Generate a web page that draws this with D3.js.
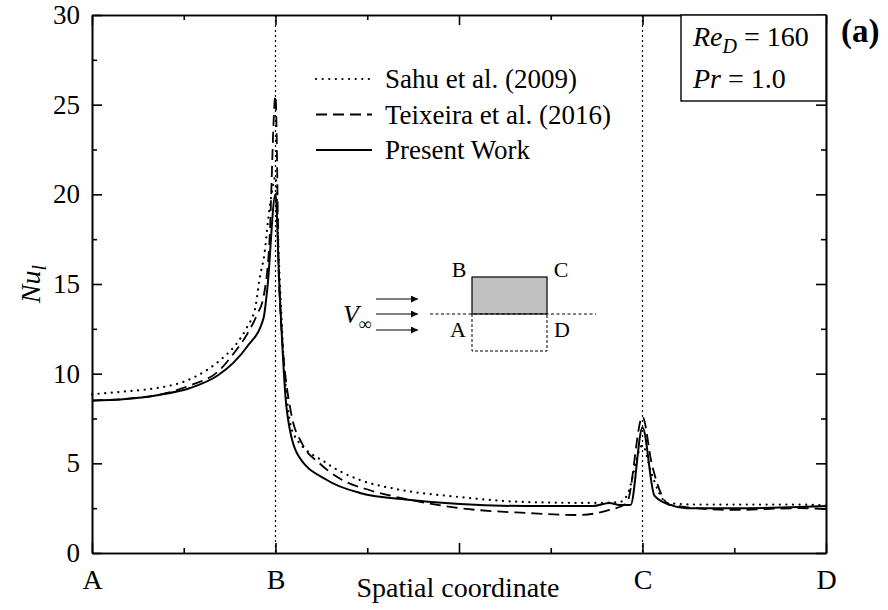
<!DOCTYPE html>
<html>
<head>
<meta charset="utf-8">
<script src="https://cdn.jsdelivr.net/npm/d3@7"></script>
<style>
  body { margin: 0; background: #fff; }
  svg { font-family: "Liberation Serif", "Times New Roman", serif; }
  .axis path, .axis line { stroke: #000; stroke-width: 1.6; }
  .axis text { font-size: 27px; fill: #000; font-family: "Liberation Serif", serif; }
  .axis.letters text { font-size: 28px; }
</style>
</head>
<body>
<svg id="chart" width="888" height="610"></svg>
<script>
// x positions: A = 0, B = 2, C = 6, D = 8 (perimeter of square cylinder)
var xLetters = [[0, 'A'], [2, 'B'], [6, 'C'], [8, 'D']];
var yTicks = [0, 5, 10, 15, 20, 25, 30];

var sahu = [
    [0, 8.85], [0.34, 9.0], [0.71, 9.2], [1.0, 9.55], [1.25, 10.2],
    [1.43, 10.9], [1.58, 11.7], [1.69, 12.6], [1.78, 13.7], [1.83, 15.4], [1.88, 16.7],
    [1.92, 18.6], [1.96, 20.1], [2.0, 21.0], [2.04, 16.0], [2.1, 10.0], [2.2, 6.6],
    [2.56, 5.0], [2.92, 4.07], [3.28, 3.6], [4.01, 3.12], [4.74, 2.84], [5.46, 2.79],
    [5.75, 2.84], [5.83, 3.2], [6.0, 6.0], [6.1, 4.4], [6.27, 2.79], [6.63, 2.7],
    [7.71, 2.7], [8.0, 2.65]
];

var teixeira = [
    [0, 8.5], [0.34, 8.58], [0.71, 8.8], [1.07, 9.35], [1.37, 10.1], [1.54, 11.1],
    [1.69, 12.2], [1.8, 13.3], [1.87, 14.3], [1.93, 17.0], [2.0, 25.5], [2.04, 14.8],
    [2.17, 7.8], [2.29, 6.1], [2.48, 5.0], [2.73, 4.07], [3.03, 3.5], [3.47, 2.96],
    [4.01, 2.5], [4.74, 2.23], [5.29, 2.12], [5.64, 2.4], [5.83, 2.79], [6.0, 7.6],
    [6.1, 5.0], [6.3, 2.68], [6.98, 2.4], [7.71, 2.5], [8.0, 2.45]
];

var present = [
    [0, 8.5], [0.34, 8.58], [0.71, 8.8], [1.07, 9.2], [1.37, 9.9], [1.54, 10.6],
    [1.69, 11.5], [1.87, 13.1], [1.91, 14.7], [2.0, 20.0], [2.04, 15.2], [2.12, 8.1],
    [2.24, 5.5], [2.56, 4.07], [2.92, 3.35], [3.47, 2.96], [4.01, 2.73], [4.74, 2.62],
    [5.46, 2.62], [5.64, 2.79], [5.75, 2.68], [5.87, 2.68], [6.0, 7.0], [6.13, 3.2],
    [6.3, 2.68], [6.48, 2.5], [6.98, 2.5], [7.71, 2.56], [8.0, 2.62]
];

var seriesNames = ['Sahu et al. (2009)', 'Teixeira et al. (2016)', 'Present Work'];

var margin = {left: 92, top: 15, right: 62, bottom: 57},
    W = 888, H = 610,
    w = W - margin.left - margin.right,
    h = H - margin.top - margin.bottom;

var svg = d3.select('#chart');
var g = svg.append('g').attr('transform', 'translate(' + margin.left + ',' + margin.top + ')');

var x = d3.scaleLinear().domain([0, 8]).range([0, w]);
var y = d3.scaleLinear().domain([0, 30]).range([h, 0]);

var styles = [
    {dash: '0.1,6.5', width: 2.2, cap: 'round'},
    {dash: '11,6', width: 1.8, cap: 'butt'},
    {dash: null, width: 2, cap: 'butt'}
];

// vertical dotted lines at B and C
g.selectAll('.corner').data([2, 6]).enter().append('line')
    .attr('x1', function (d) { return x(d); })
    .attr('x2', function (d) { return x(d); })
    .attr('y1', 0).attr('y2', h)
    .attr('stroke', '#000').attr('stroke-width', 1.2)
    .attr('stroke-dasharray', '2,3');

// axes, ticks pointing inward
var majorX = [0, 2, 4, 6, 8], minorX = [1, 3, 5, 7];
var majorY = yTicks, minorY = [2.5, 7.5, 12.5, 17.5, 22.5, 27.5];
var letterOf = {};
xLetters.forEach(function (d) { letterOf[d[0]] = d[1]; });

g.append('g').attr('class', 'axis letters').attr('transform', 'translate(0,' + h + ')')
    .call(d3.axisBottom(x).tickValues(majorX).tickSizeInner(-10).tickSizeOuter(0).tickPadding(16)
        .tickFormat(function (d) { return letterOf[d] || ''; }));
g.append('g').attr('class', 'axis').attr('transform', 'translate(0,' + h + ')')
    .call(d3.axisBottom(x).tickValues(minorX).tickSizeInner(-5).tickSizeOuter(0).tickFormat(''));
g.append('g').attr('class', 'axis')
    .call(d3.axisTop(x).tickValues(majorX).tickSizeInner(-10).tickSizeOuter(0).tickFormat(''));
g.append('g').attr('class', 'axis')
    .call(d3.axisTop(x).tickValues(minorX).tickSizeInner(-5).tickSizeOuter(0).tickFormat(''));

g.append('g').attr('class', 'axis')
    .call(d3.axisLeft(y).tickValues(majorY).tickSizeInner(-10).tickSizeOuter(0).tickPadding(12));
g.append('g').attr('class', 'axis')
    .call(d3.axisLeft(y).tickValues(minorY).tickSizeInner(-5).tickSizeOuter(0).tickFormat(''));
g.append('g').attr('class', 'axis').attr('transform', 'translate(' + w + ',0)')
    .call(d3.axisRight(y).tickValues(majorY).tickSizeInner(-10).tickSizeOuter(0).tickFormat(''));
g.append('g').attr('class', 'axis').attr('transform', 'translate(' + w + ',0)')
    .call(d3.axisRight(y).tickValues(minorY).tickSizeInner(-5).tickSizeOuter(0).tickFormat(''));

// curves
var line = d3.line()
    .x(function (d) { return x(d[0]); })
    .y(function (d) { return y(d[1]); })
    .curve(d3.curveMonotoneX);

[sahu, teixeira, present].forEach(function (data, i) {
    g.append('path').datum(data)
        .attr('d', line)
        .attr('fill', 'none')
        .attr('stroke', '#000')
        .attr('stroke-width', styles[i].width)
        .attr('stroke-linecap', styles[i].cap)
        .attr('stroke-linejoin', 'round')
        .attr('stroke-dasharray', styles[i].dash);
});

// legend
var legend = svg.append('g').attr('transform', 'translate(316,79)');
seriesNames.forEach(function (name, i) {
    legend.append('line')
        .attr('x1', 0).attr('x2', 56)
        .attr('y1', i * 35.5).attr('y2', i * 35.5)
        .attr('stroke', '#000')
        .attr('stroke-width', styles[i].width)
        .attr('stroke-linecap', styles[i].cap)
        .attr('stroke-dasharray', styles[i].dash);
    legend.append('text')
        .attr('x', 69).attr('y', i * 35.5 + 9)
        .attr('font-size', 27)
        .text(name);
});

// parameter box in the top right corner
svg.append('rect')
    .attr('x', 681).attr('y', margin.top)
    .attr('width', margin.left + w - 681).attr('height', 86)
    .attr('fill', '#fff').attr('stroke', '#000').attr('stroke-width', 1.4);
var t1 = svg.append('text').attr('x', 693).attr('y', 46).attr('font-size', 28);
t1.append('tspan').attr('font-style', 'italic').text('Re');
t1.append('tspan').attr('font-style', 'italic').attr('font-size', 20).attr('dy', 7).text('D');
t1.append('tspan').attr('dy', -7).text(' = 160');
var t2 = svg.append('text').attr('x', 693).attr('y', 88).attr('font-size', 28);
t2.append('tspan').attr('font-style', 'italic').text('Pr');
t2.append('tspan').text(' = 1.0');

svg.append('text').attr('x', 841).attr('y', 42)
    .attr('font-size', 33).attr('font-weight', 'bold').text('(a)');

// axis titles
svg.append('text')
    .attr('x', margin.left + w / 2 - 1).attr('y', 597)
    .attr('text-anchor', 'middle').attr('font-size', 28)
    .text('Spatial coordinate');

var yl = svg.append('text')
    .attr('transform', 'translate(40,' + (margin.top + h / 2) + ') rotate(-90)')
    .attr('text-anchor', 'middle').attr('font-size', 28).attr('font-style', 'italic');
yl.append('tspan').text('Nu');
yl.append('tspan').attr('font-size', 20).attr('dy', 6).text('l');

// inset sketch of the square cylinder
var inset = svg.append('g');
inset.append('rect').attr('x', 472).attr('y', 277).attr('width', 75).attr('height', 37)
    .attr('fill', '#c0c0c0').attr('stroke', '#000').attr('stroke-width', 1.2);
inset.append('path').attr('d', 'M472,314V351H547V314')
    .attr('fill', 'none').attr('stroke', '#000').attr('stroke-width', 1).attr('stroke-dasharray', '3,2');
inset.append('line').attr('x1', 430).attr('x2', 596).attr('y1', 314).attr('y2', 314)
    .attr('stroke', '#000').attr('stroke-width', 1).attr('stroke-dasharray', '3,2.5');

svg.append('defs').append('marker')
    .attr('id', 'arrow').attr('viewBox', '0 0 10 10')
    .attr('refX', 10).attr('refY', 5)
    .attr('markerWidth', 13).attr('markerHeight', 7)
    .attr('markerUnits', 'userSpaceOnUse')
    .attr('orient', 'auto')
    .append('path').attr('d', 'M0,0L10,5L0,10Z').attr('fill', '#000');

[299, 314, 330].forEach(function (yy) {
    inset.append('line').attr('x1', 376).attr('x2', 418).attr('y1', yy).attr('y2', yy)
        .attr('stroke', '#000').attr('stroke-width', 1.2)
        .attr('marker-end', 'url(#arrow)');
});

var vl = inset.append('text').attr('x', 343).attr('y', 323).attr('font-size', 26);
vl.append('tspan').attr('font-style', 'italic').text('V');
vl.append('tspan').attr('font-style', 'italic').attr('font-size', 18).attr('dy', 7).text('\u221E');

[['B', 459, 277], ['C', 561, 277], ['A', 458, 337], ['D', 562, 337]].forEach(function (d) {
    inset.append('text').attr('x', d[1]).attr('y', d[2])
        .attr('text-anchor', 'middle').attr('font-size', 22).text(d[0]);
});
</script>
</body>
</html>
